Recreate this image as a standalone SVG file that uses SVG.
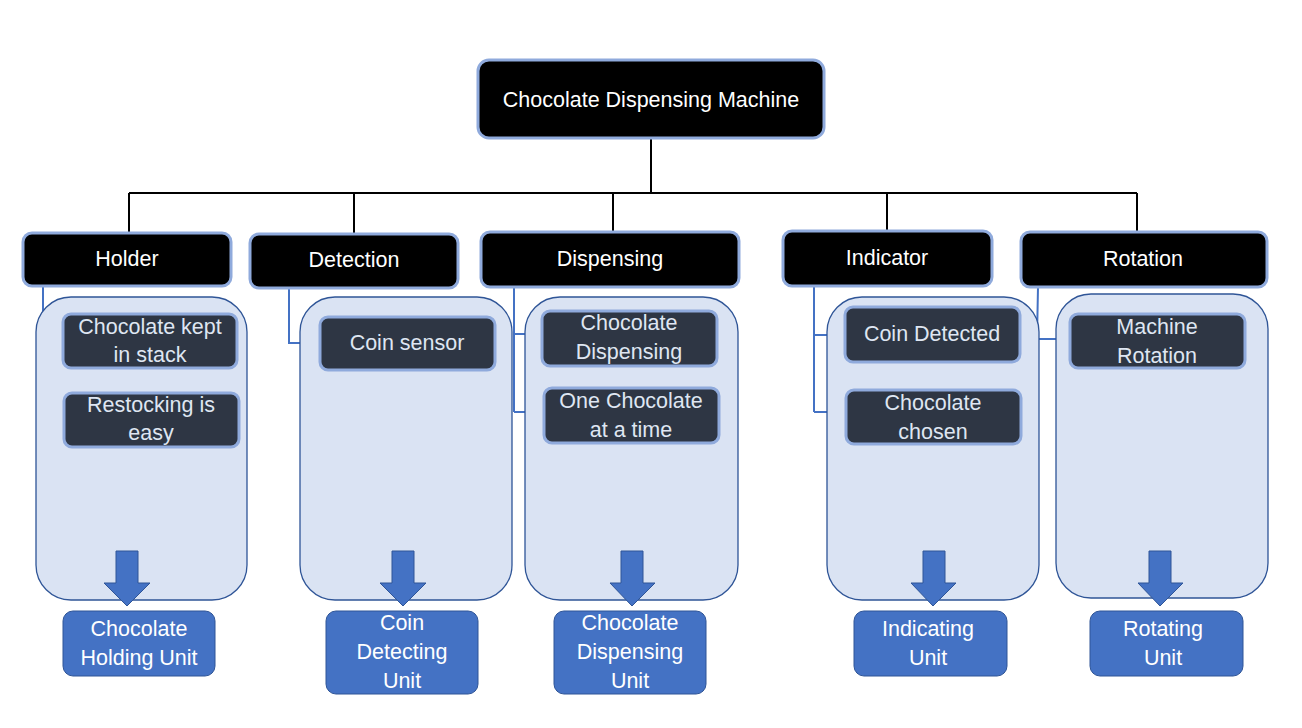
<svg xmlns="http://www.w3.org/2000/svg" width="1302" height="728" viewBox="0 0 1302 728">
<style>
  .hdr { fill: #000000; stroke: #8faadc; stroke-width: 3; }
  .panel { fill: #dae3f3; stroke: #2f5597; stroke-width: 1.3; }
  .sub { fill: #2e3644; stroke: #8faadc; stroke-width: 3; }
  .unit { fill: #4472c4; stroke: #2f5597; stroke-width: 1; }
  .arrow { fill: #4472c4; stroke: #2f5597; stroke-width: 1; }
  .tree { stroke: #000000; stroke-width: 2; fill: none; }
  .link { stroke: #4472c4; stroke-width: 2; fill: none; }
  text { font-family: "Liberation Sans", Arial, sans-serif; font-size: 21.5px; text-anchor: middle; dominant-baseline: central; }
  .wt { fill: #ffffff; }
  .lt { fill: #dfe6f2; }
</style>
<rect width="1302" height="728" fill="#ffffff"/>

<g id="connectors">
  <path class="tree" d="M651 138 V193 M129 193 H1137 M129 193 V233 M354 193 V234 M613 193 V232 M887 193 V231 M1137 193 V232"/>
  <path class="link" d="M43 287 V419 M43 341 H63 M43 419 H64"/>
  <path class="link" d="M289 288 V343 H320"/>
  <path class="link" d="M514 287 V412 M514 334 H542 M514 412 H544"/>
  <path class="link" d="M814 286 V412 M814 335 H845 M814 412 H846"/>
  <path class="link" d="M1038 287 L1037 339 H1070"/>
</g>

<g id="root">
  <rect class="hdr" x="478" y="60" width="346" height="78" rx="11"/>
  <text class="wt" x="651" y="100">Chocolate Dispensing Machine</text>
</g>

<g id="holder">
  <rect class="panel" x="36" y="297" width="211" height="303" rx="35"/>
  <rect class="hdr" x="23" y="233" width="208" height="53" rx="9"/>
  <text class="wt" x="127" y="259">Holder</text>
  <rect class="sub" x="63" y="314" width="174" height="54" rx="8"/>
  <text class="lt" x="150" y="327">Chocolate kept</text>
  <text class="lt" x="150" y="355">in stack</text>
  <rect class="sub" x="64" y="393" width="175" height="54" rx="8"/>
  <text class="lt" x="151" y="405">Restocking is</text>
  <text class="lt" x="151" y="433">easy</text>
  <path class="arrow" d="M116 551 H138 V583 H150 L127 606 L104 583 H116 Z"/>
  <rect class="unit" x="63" y="611" width="152" height="65" rx="10"/>
  <text class="wt" x="139" y="629">Chocolate</text>
  <text class="wt" x="139" y="658">Holding Unit</text>
</g>

<g id="detection">
  <rect class="panel" x="300" y="297" width="212" height="303" rx="35"/>
  <rect class="hdr" x="250" y="234" width="208" height="54" rx="9"/>
  <text class="wt" x="354" y="260">Detection</text>
  <rect class="sub" x="320" y="317" width="175" height="53" rx="8"/>
  <text class="lt" x="407" y="343">Coin sensor</text>
  <path class="arrow" d="M392 551 H414 V583 H426 L403 606 L380 583 H392 Z"/>
  <rect class="unit" x="326" y="611" width="152" height="83" rx="10"/>
  <text class="wt" x="402" y="623">Coin</text>
  <text class="wt" x="402" y="652">Detecting</text>
  <text class="wt" x="402" y="681">Unit</text>
</g>

<g id="dispensing">
  <rect class="panel" x="525" y="297" width="213" height="303" rx="35"/>
  <rect class="hdr" x="481" y="232" width="258" height="55" rx="9"/>
  <text class="wt" x="610" y="259">Dispensing</text>
  <rect class="sub" x="542" y="311" width="175" height="55" rx="8"/>
  <text class="lt" x="629" y="323">Chocolate</text>
  <text class="lt" x="629" y="352">Dispensing</text>
  <rect class="sub" x="544" y="388" width="175" height="55" rx="8"/>
  <text class="lt" x="631" y="401">One Chocolate</text>
  <text class="lt" x="631" y="430">at a time</text>
  <path class="arrow" d="M621 551 H643 V583 H655 L632 606 L610 583 H621 Z"/>
  <rect class="unit" x="554" y="611" width="152" height="83" rx="10"/>
  <text class="wt" x="630" y="623">Chocolate</text>
  <text class="wt" x="630" y="652">Dispensing</text>
  <text class="wt" x="630" y="681">Unit</text>
</g>

<g id="indicator">
  <rect class="panel" x="827" y="297" width="212" height="303" rx="35"/>
  <rect class="hdr" x="783" y="231" width="209" height="55" rx="9"/>
  <text class="wt" x="887" y="258">Indicator</text>
  <rect class="sub" x="845" y="307" width="175" height="55" rx="8"/>
  <text class="lt" x="932" y="334">Coin Detected</text>
  <rect class="sub" x="846" y="390" width="175" height="54" rx="8"/>
  <text class="lt" x="933" y="403">Chocolate</text>
  <text class="lt" x="933" y="432">chosen</text>
  <path class="arrow" d="M923 551 H945 V583 H956 L933 606 L911 583 H923 Z"/>
  <rect class="unit" x="854" y="611" width="153" height="65" rx="10"/>
  <text class="wt" x="928" y="629">Indicating</text>
  <text class="wt" x="928" y="658">Unit</text>
</g>

<g id="rotation">
  <rect class="panel" x="1056" y="294" width="212" height="304" rx="35"/>
  <rect class="hdr" x="1021" y="232" width="246" height="55" rx="9"/>
  <text class="wt" x="1143" y="259">Rotation</text>
  <rect class="sub" x="1070" y="314" width="175" height="54" rx="8"/>
  <text class="lt" x="1157" y="327">Machine</text>
  <text class="lt" x="1157" y="356">Rotation</text>
  <path class="arrow" d="M1149 551 H1171 V583 H1183 L1160 606 L1138 583 H1149 Z"/>
  <rect class="unit" x="1090" y="611" width="153" height="65" rx="10"/>
  <text class="wt" x="1163" y="629">Rotating</text>
  <text class="wt" x="1163" y="658">Unit</text>
</g>
</svg>
